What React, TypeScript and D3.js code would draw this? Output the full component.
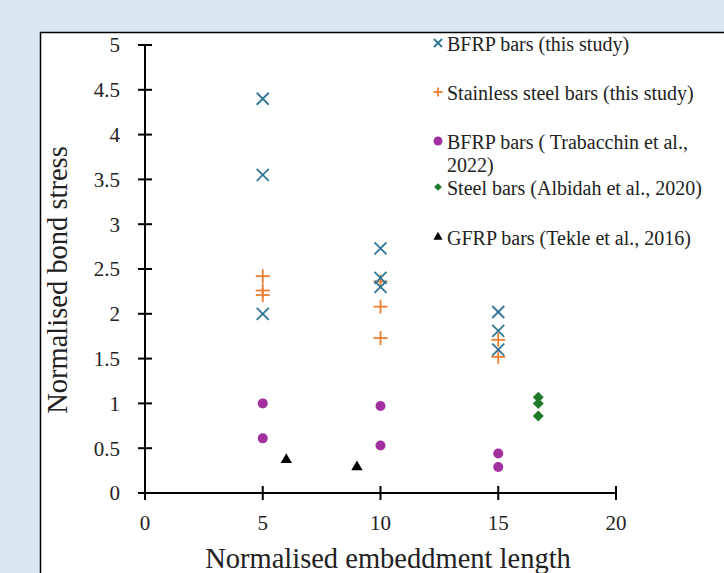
import React from "react";
import * as d3 from "d3";

const bfrpX = [5, 5, 5, 10, 10, 10, 15, 15, 15];
const bfrpY = [4.4, 3.55, 2.0, 2.73, 2.4, 2.3, 2.02, 1.81, 1.6];
const ssX = [5, 5, 5, 10, 10, 10, 15, 15];
const ssY = [2.42, 2.26, 2.21, 2.36, 2.08, 1.73, 1.71, 1.52];
const trabX = [5, 5, 10, 10, 15, 15];
const trabY = [1.0, 0.61, 0.97, 0.53, 0.44, 0.29];
const albX = [16.7, 16.7, 16.7];
const albY = [1.07, 1.0, 0.86];
const tekX = [6, 9];
const tekY = [0.37, 0.29];
const xTicks = [0, 5, 10, 15, 20];
const yTicks = [0, 0.5, 1, 1.5, 2, 2.5, 3, 3.5, 4, 4.5, 5];
const legendLabels = [
  ["BFRP bars (this study)"],
  ["Stainless steel bars (this study)"],
  ["BFRP bars ( Trabacchin et al.,", "2022)"],
  ["Steel bars (Albidah et al., 2020)"],
  ["GFRP bars (Tekle et al., 2016)"],
];

const BLUE = "#2f7595";
const ORANGE = "#ed7d31";
const PURPLE = "#a2309f";
const GREEN = "#1e7a28";
const FONT = "'Liberation Serif', 'Times New Roman', serif";

export default function App() {
  const x = d3.scaleLinear().domain([0, 20]).range([145, 616]);
  const y = d3.scaleLinear().domain([0, 5]).range([493, 45]);
  const tri = d3.symbol().type(d3.symbolTriangle).size(55)();
  const sq = d3.symbol().type(d3.symbolSquare).size(60)();
  const triL = d3.symbol().type(d3.symbolTriangle).size(36)();
  const sqL = d3.symbol().type(d3.symbolSquare).size(30)();

  const cross = (cx: number, cy: number, color: string, s: number, key: string) => (
    <g key={key} stroke={color} strokeWidth={1.8}>
      <line x1={cx - s} y1={cy - s} x2={cx + s} y2={cy + s} />
      <line x1={cx - s} y1={cy + s} x2={cx + s} y2={cy - s} />
    </g>
  );
  const plus = (cx: number, cy: number, color: string, s: number, key: string) => (
    <g key={key} stroke={color} strokeWidth={1.8}>
      <line x1={cx - s} y1={cy} x2={cx + s} y2={cy} />
      <line x1={cx} y1={cy - s} x2={cx} y2={cy + s} />
    </g>
  );

  const legY = [44, 93, 142, 188, 238];
  const legMarkX = 438;
  const legTextX = 447;

  return (
    <svg width={724} height={573} style={{ position: "absolute", left: 0, top: 0, display: "block" }}>
      <rect x={0} y={0} width={724} height={573} fill="#dce6f1" />
      <rect x={40.5} y={32.5} width={700} height={600} fill="#ffffff" stroke="#000" strokeWidth={1.5} />
      {/* axes */}
      <line x1={x(0)} y1={y(5) - 1} x2={x(0)} y2={y(0) + 1} stroke="#000" strokeWidth={2} />
      <line x1={x(0) - 7} y1={y(0)} x2={x(20) + 1} y2={y(0)} stroke="#000" strokeWidth={2} />
      {yTicks.map((t) => (
        <g key={"yt" + t}>
          <line x1={x(0) - 7} x2={x(0) + 7} y1={y(t)} y2={y(t)} stroke="#000" strokeWidth={2} />
          <text x={120} y={y(t)} dy="0.35em" textAnchor="end" fontFamily={FONT} fontSize={21} fill="#222">
            {t}
          </text>
        </g>
      ))}
      {xTicks.map((t) => (
        <g key={"xt" + t}>
          <line x1={x(t)} x2={x(t)} y1={y(0) - 7} y2={y(0) + 7} stroke="#000" strokeWidth={2} />
          <text x={x(t)} y={530} textAnchor="middle" fontFamily={FONT} fontSize={21} fill="#222">
            {t}
          </text>
        </g>
      ))}
      <text
        transform={`translate(67,280) rotate(-90)`}
        textAnchor="middle"
        fontFamily={FONT}
        fontSize={28.5}
        fill="#222"
      >
        Normalised bond stress
      </text>
      <text x={388} y={568} textAnchor="middle" fontFamily={FONT} fontSize={28.5} fill="#222">
        Normalised embeddment length
      </text>
      {/* data */}
      {trabX.map((v, i) => (
        <circle key={"tr" + i} cx={x(v)} cy={y(trabY[i])} r={5} fill={PURPLE} />
      ))}
      {albX.map((v, i) => (
        <path key={"al" + i} d={sq} transform={`translate(${x(v)},${y(albY[i])}) rotate(45)`} fill={GREEN} />
      ))}
      {tekX.map((v, i) => (
        <path key={"tk" + i} d={tri} transform={`translate(${x(v)},${y(tekY[i])})`} fill="#000" />
      ))}
      {ssX.map((v, i) => plus(x(v), y(ssY[i]), ORANGE, 7, "ss" + i))}
      {bfrpX.map((v, i) => cross(x(v), y(bfrpY[i]), BLUE, 6, "bf" + i))}
      {/* legend */}
      {cross(legMarkX, legY[0] - 1, BLUE, 4, "lg0")}
      {plus(legMarkX, legY[1] - 1, ORANGE, 4.5, "lg1")}
      <circle cx={legMarkX} cy={legY[2] - 1} r={4.5} fill={PURPLE} />
      <path d={sqL} transform={`translate(${legMarkX},${legY[3] - 1}) rotate(45)`} fill={GREEN} />
      <path d={triL} transform={`translate(${legMarkX},${legY[4] - 1})`} fill="#000" />
      {legendLabels.map((lines, i) => (
        <text key={"lt" + i} x={legTextX} y={legY[i]} dy="0.35em" fontFamily={FONT} fontSize={20} fill="#222">
          {lines.map((l, j) => (
            <tspan key={j} x={legTextX} dy={j === 0 ? "0.35em" : "1.15em"}>
              {l}
            </tspan>
          ))}
        </text>
      ))}
    </svg>
  );
}
